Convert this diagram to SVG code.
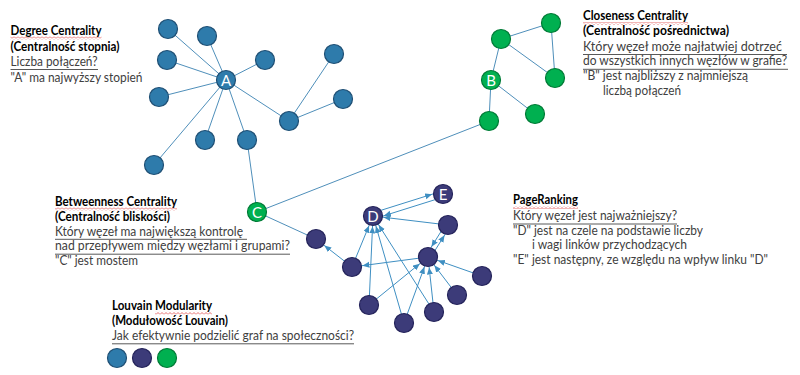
<svg xmlns="http://www.w3.org/2000/svg" width="800" height="375" viewBox="0 0 800 375">
<defs>
<style>
.t{font-family:Lato,"Liberation Sans",Arial,sans-serif;font-size:13px;fill:#000;font-weight:bold}
.g{font-family:Lato,"Liberation Sans",Arial,sans-serif;font-size:13px;fill:#404040}
.s{font-size:12.4px}
.u{stroke:#595959;stroke-width:1}
.e{stroke:#4f8fba;stroke-width:1;fill:none}
.d{stroke:#3f8fc2;stroke-width:1;fill:none;marker-end:url(#arr)}
.nb{fill:#2e7bab;stroke:#1f4f74;stroke-width:1.2}
.nd{fill:#3c3b79;stroke:#24235a;stroke-width:1.2}
.ng{fill:#00b050;stroke:#007a36;stroke-width:1.2}
.lb{font-family:Lato,"Liberation Sans",Arial,sans-serif;font-size:15px;fill:#fff;text-anchor:middle}
</style>
<marker id="arr" markerUnits="userSpaceOnUse" markerWidth="20" markerHeight="8" refX="17.5" refY="3" orient="auto">
<path d="M0,0 L7,3 L0,6 z" fill="#3f8fc2"/>
</marker>
<pattern id="sq" width="4" height="3" patternUnits="userSpaceOnUse">
<path d="M0,2.5 L2,0.5 L4,2.5" stroke="#e04848" stroke-width="0.8" fill="none"/>
</pattern>
</defs>
<rect width="800" height="375" fill="#fff"/>

<g id="connectors">
<g id="blue-edges">
<line class="e" x1="226" y1="80" x2="168" y2="29"/>
<line class="e" x1="226" y1="80" x2="207" y2="36"/>
<line class="e" x1="226" y1="80" x2="167" y2="60"/>
<line class="e" x1="226" y1="80" x2="265" y2="60"/>
<line class="e" x1="226" y1="80" x2="159" y2="97"/>
<line class="e" x1="226" y1="80" x2="289" y2="121"/>
<line class="e" x1="226" y1="80" x2="205" y2="140"/>
<line class="e" x1="226" y1="80" x2="247" y2="140"/>
<line class="e" x1="226" y1="80" x2="154" y2="165"/>
<line class="e" x1="289" y1="121" x2="334" y2="54"/>
<line class="e" x1="289" y1="121" x2="343" y2="99"/>
<line class="e" x1="247" y1="140" x2="257" y2="212"/>
<line class="e" x1="257" y1="212" x2="489" y2="121"/>
<line class="e" x1="257" y1="212" x2="316" y2="239"/>
</g>
<g id="green-edges">
<line class="e" x1="551" y1="23" x2="501" y2="39"/>
<line class="e" x1="551" y1="23" x2="555" y2="78"/>
<line class="e" x1="501" y1="39" x2="555" y2="78"/>
<line class="e" x1="501" y1="39" x2="491" y2="80"/>
<line class="e" x1="491" y1="80" x2="535" y2="114"/>
<line class="e" x1="491" y1="80" x2="489" y2="121"/>
</g>
<g id="dark-edges">
<line class="d" x1="352" y1="267" x2="316" y2="239"/>
<line class="d" x1="352" y1="267" x2="373" y2="216"/>
<line class="d" x1="428" y1="257" x2="352" y2="267"/>
<line class="d" x1="372.1" y1="213.1" x2="442.1" y2="191.1"/>
<line class="d" x1="443.9" y1="196.9" x2="373.9" y2="218.9"/>
<line class="d" x1="448" y1="225" x2="373" y2="216"/>
<line class="d" x1="445.9" y1="223.7" x2="425.9" y2="255.7"/>
<line class="d" x1="430.1" y1="258.3" x2="450.1" y2="226.3"/>
<line class="d" x1="369" y1="305" x2="373" y2="216"/>
<line class="d" x1="369" y1="305" x2="428" y2="257"/>
<line class="d" x1="404" y1="323" x2="373" y2="216"/>
<line class="d" x1="404" y1="323" x2="428" y2="257"/>
<line class="d" x1="434" y1="312" x2="373" y2="216"/>
<line class="d" x1="434" y1="312" x2="428" y2="257"/>
<line class="d" x1="457" y1="295" x2="428" y2="257"/>
<line class="d" x1="482" y1="276" x2="428" y2="257"/>
</g>
</g>

<g id="node-A"><circle class="nb" cx="226" cy="80" r="9.5"/><text class="lb" x="226" y="85.5">A</text></g>
<g id="node-b1"><circle class="nb" cx="168" cy="29" r="9.5"/></g>
<g id="node-b2"><circle class="nb" cx="207" cy="36" r="9.5"/></g>
<g id="node-b3"><circle class="nb" cx="167" cy="60" r="9.5"/></g>
<g id="node-b4"><circle class="nb" cx="265" cy="60" r="9.5"/></g>
<g id="node-b5"><circle class="nb" cx="159" cy="97" r="9.5"/></g>
<g id="node-b6"><circle class="nb" cx="289" cy="121" r="9.5"/></g>
<g id="node-b7"><circle class="nb" cx="205" cy="140" r="9.5"/></g>
<g id="node-b8"><circle class="nb" cx="247" cy="140" r="9.5"/></g>
<g id="node-b9"><circle class="nb" cx="154" cy="165" r="9.5"/></g>
<g id="node-b10"><circle class="nb" cx="334" cy="54" r="9.5"/></g>
<g id="node-b11"><circle class="nb" cx="343" cy="99" r="9.5"/></g>

<g id="node-B"><circle class="ng" cx="491" cy="80" r="9.5"/><text class="lb" x="491" y="85.5">B</text></g>
<g id="node-g1"><circle class="ng" cx="551" cy="23" r="9.5"/></g>
<g id="node-g2"><circle class="ng" cx="501" cy="39" r="9.5"/></g>
<g id="node-g3"><circle class="ng" cx="555" cy="78" r="9.5"/></g>
<g id="node-g4"><circle class="ng" cx="535" cy="114" r="9.5"/></g>
<g id="node-g5"><circle class="ng" cx="489" cy="121" r="9.5"/></g>
<g id="node-C"><circle class="ng" cx="257" cy="212" r="9.5"/><text class="lb" x="257" y="217.5">C</text></g>

<g id="node-D"><circle class="nd" cx="373" cy="216" r="9.5"/><text class="lb" x="373" y="221.5">D</text></g>
<g id="node-E"><circle class="nd" cx="443" cy="194" r="9.5"/><text class="lb" x="443" y="199.5">E</text></g>
<g id="node-d1"><circle class="nd" cx="316" cy="239" r="9.5"/></g>
<g id="node-d2"><circle class="nd" cx="352" cy="267" r="9.5"/></g>
<g id="node-d3"><circle class="nd" cx="448" cy="225" r="9.5"/></g>
<g id="node-hub"><circle class="nd" cx="428" cy="257" r="9.5"/></g>
<g id="node-d4"><circle class="nd" cx="482" cy="276" r="9.5"/></g>
<g id="node-d5"><circle class="nd" cx="457" cy="295" r="9.5"/></g>
<g id="node-d6"><circle class="nd" cx="369" cy="305" r="9.5"/></g>
<g id="node-d7"><circle class="nd" cx="434" cy="312" r="9.5"/></g>
<g id="node-d8"><circle class="nd" cx="404" cy="323" r="9.5"/></g>

<g id="text-degree">
<rect x="10.5" y="36.5" width="91" height="3" fill="url(#sq)"/>
<text class="t" x="10.5" y="34.7" textLength="91" lengthAdjust="spacingAndGlyphs">Degree Centrality</text>
<text class="t" x="10.5" y="50.5" textLength="109" lengthAdjust="spacingAndGlyphs">(Centralność stopnia)</text>
<text class="g" x="10.5" y="66.2" textLength="87" lengthAdjust="spacingAndGlyphs">Liczba połączeń?</text>
<line class="u" x1="10.5" y1="69.5" x2="98" y2="69.5"/>
<text class="g" x="10.5" y="82" textLength="132" lengthAdjust="spacingAndGlyphs">"A" ma najwyższy stopień</text>
</g>

<g id="text-closeness">
<rect x="583" y="22" width="105" height="3" fill="url(#sq)"/>
<text class="t" x="583" y="20.3" textLength="105" lengthAdjust="spacingAndGlyphs">Closeness Centrality</text>
<text class="t" x="583" y="35.3" textLength="146" lengthAdjust="spacingAndGlyphs">(Centralność pośrednictwa)</text>
<text class="g s" x="583" y="50.5" textLength="199" lengthAdjust="spacingAndGlyphs">Który węzeł może najłatwiej dotrzeć</text>
<line class="u" x1="583" y1="54.5" x2="787" y2="54.5"/>
<text class="g s" x="583" y="65.3" textLength="204" lengthAdjust="spacingAndGlyphs">do wszystkich innych węzłów w grafie?</text>
<line class="u" x1="583" y1="69.3" x2="788" y2="69.3"/>
<text class="g" x="583" y="80" textLength="165" lengthAdjust="spacingAndGlyphs">"B" jest najbliższy z najmniejszą</text>
<text class="g" x="603" y="94.5" textLength="78" lengthAdjust="spacingAndGlyphs">liczbą połączeń</text>
</g>

<g id="text-betweenness">
<rect x="55" y="207.5" width="122" height="3" fill="url(#sq)"/>
<text class="t" x="55" y="205.7" textLength="122" lengthAdjust="spacingAndGlyphs">Betweenness Centrality</text>
<text class="t" x="55" y="220.7" textLength="115" lengthAdjust="spacingAndGlyphs">(Centralność bliskości)</text>
<text class="g" x="55" y="235.5" textLength="188" lengthAdjust="spacingAndGlyphs">Który węzeł ma największą kontrolę</text>
<line class="u" x1="55" y1="239.3" x2="247" y2="239.3"/>
<text class="g" x="55" y="250.3" textLength="235" lengthAdjust="spacingAndGlyphs">nad przepływem między węzłami i grupami?</text>
<line class="u" x1="55" y1="254.2" x2="290" y2="254.2"/>
<text class="g" x="55" y="265" textLength="83" lengthAdjust="spacingAndGlyphs">"C" jest mostem</text>
</g>

<g id="text-pagerank">
<rect x="513" y="206" width="65" height="3" fill="url(#sq)"/>
<text class="t" x="513" y="204.3" textLength="65" lengthAdjust="spacingAndGlyphs">PageRanking</text>
<text class="g" x="513" y="220" textLength="164" lengthAdjust="spacingAndGlyphs">Który węzeł jest najważniejszy?</text>
<line class="u" x1="513" y1="224" x2="677" y2="224"/>
<text class="g" x="513" y="234.5" textLength="190" lengthAdjust="spacingAndGlyphs">"D" jest na czele na podstawie liczby</text>
<text class="g" x="532" y="249.3" textLength="155" lengthAdjust="spacingAndGlyphs">i wagi linków przychodzących</text>
<text class="g" x="513" y="264.3" textLength="255" lengthAdjust="spacingAndGlyphs">"E" jest następny, ze względu na wpływ linku "D"</text>
</g>

<g id="text-louvain">
<rect x="155" y="311.8" width="57" height="3" fill="url(#sq)"/>
<text class="t" x="112" y="310" textLength="100" lengthAdjust="spacingAndGlyphs">Louvain Modularity</text>
<text class="t" x="112" y="325" textLength="116" lengthAdjust="spacingAndGlyphs">(Modułowość Louvain)</text>
<text class="g" x="112" y="340" textLength="242" lengthAdjust="spacingAndGlyphs">Jak efektywnie podzielić graf na społeczności?</text>
<line class="u" x1="112" y1="343.8" x2="354" y2="343.8"/>
</g>

<g id="legend">
<circle class="nb" cx="117" cy="358" r="9.5"/>
<circle class="nd" cx="142" cy="358" r="9.5"/>
<circle class="ng" cx="167" cy="358" r="9.5"/>
</g>
</svg>
